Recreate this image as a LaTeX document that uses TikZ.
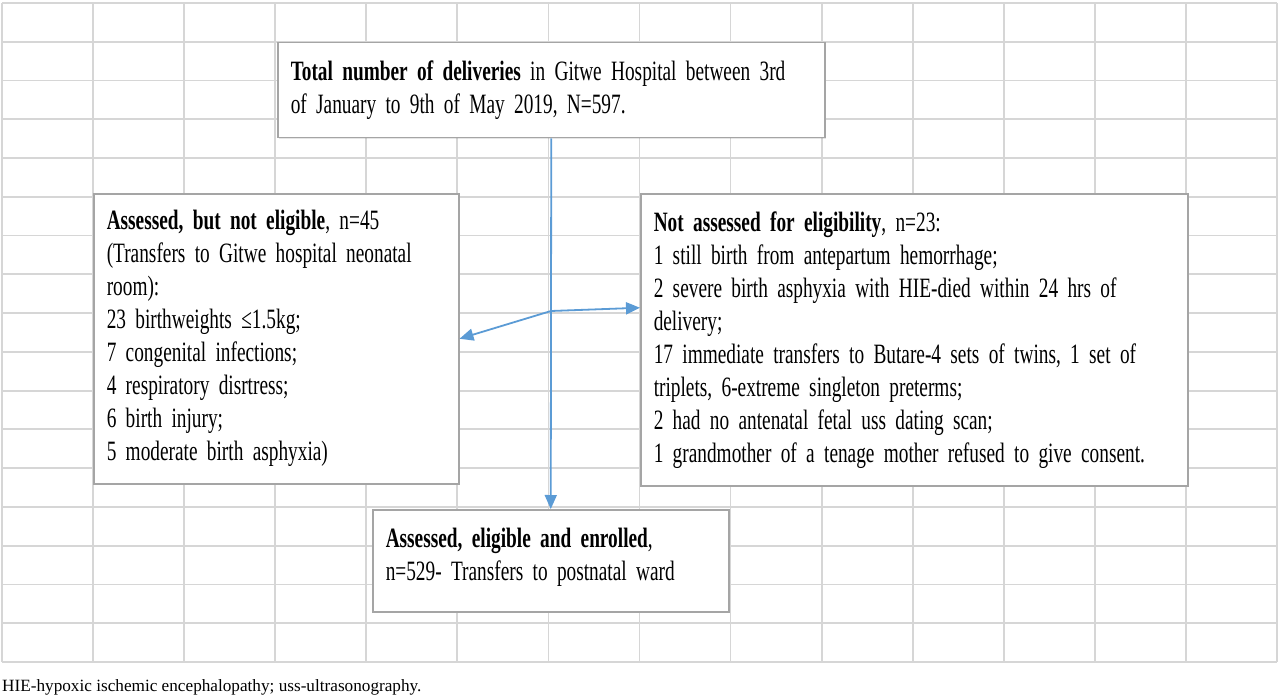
\documentclass[tikz,border=0pt]{standalone}
\usepackage{fontspec}
\setmainfont{Liberation Serif}[FakeStretch=0.69, WordSpace=0.85]
\newfontfamily\notefont{Liberation Serif}
\usepackage{xcolor}
\usepackage{tikz}
\usetikzlibrary{positioning,arrows.meta,shadows}

\definecolor{gridgray}{RGB}{214,214,214}
\definecolor{boxgray}{RGB}{165,165,165}
\definecolor{flowblue}{RGB}{91,155,213}

\tikzset{
  gridline/.style={draw=gridgray, line width=1.8pt},
  stage/.style={draw=boxgray, line width=1.5pt, fill=white, align=left,
    inner xsep=13pt, inner ysep=0pt, anchor=north west,
    font=\fontsize{28}{33}\selectfont,
    drop shadow={shadow xshift=1.5pt, shadow yshift=-1.5pt, opacity=0.2}},
  flow/.style={draw=flowblue, line width=1.8pt, -{Triangle[length=14pt,width=12pt]}}
}

\begin{document}
\begin{tikzpicture}[x=1pt, y=-1pt]
        \useasboundingbox (0,0) rectangle (1280,698);

        % Grid
        \foreach \i in {0,...,14}
            \draw[gridline] ({2+91.07*\i},3) -- ({2+91.07*\i},662);
        \foreach \j in {0,...,17}
            \draw[gridline] (2,{3+38.76*\j}) -- (1277,{3+38.76*\j});

        % Boxes
        \node[stage, text width=521pt, minimum height=95pt] (total) at (277,42)
            {\textbf{Total number of deliveries} in Gitwe Hospital between 3rd\\
             of January to 9th of May 2019, N=597.};
        \node[stage, text width=339pt, minimum height=290pt] (excluded) at (93,193)
            {\textbf{Assessed, but not eligible}, n=45\\
             (Transfers to Gitwe hospital neonatal\\
             room):\\
             23 birthweights ≤1.5kg;\\
             7 congenital infections;\\
             4 respiratory disrtress;\\
             6 birth injury;\\
             5 moderate birth asphyxia)};
        \node[stage, text width=521pt, minimum height=292pt] (notassessed) at (640,193)
            {\textbf{Not assessed for eligibility}, n=23:\\
             1 still birth from antepartum hemorrhage;\\
             2 severe birth asphyxia with HIE-died within 24 hrs of\\
             delivery;\\
             17 immediate transfers to Butare-4 sets of twins, 1 set of\\
             triplets, 6-extreme singleton preterms;\\
             2 had no antenatal fetal uss dating scan;\\
             1 grandmother of a tenage mother refused to give consent.};
        \node[stage, text width=330pt, minimum height=102pt] (enrolled) at (372,509)
            {\textbf{Assessed, eligible and enrolled},\\
             n=529- Transfers to postnatal ward\\[-20pt]\mbox{}};

        % Arrows
        \coordinate (split) at (551,311);
        \draw[flow] (total.south) -- (enrolled.north);
        \draw[flow] (split) -- (excluded.east);
        \draw[flow] (split) -- ([yshift=32pt]notassessed.west);

        % Note
        \node[anchor=base west, inner sep=0pt, font=\notefont\fontsize{17.2}{20}\selectfont] (note) at (2,691)
            {HIE-hypoxic ischemic encephalopathy; uss-ultrasonography.};
    \end{tikzpicture}
\end{document}
